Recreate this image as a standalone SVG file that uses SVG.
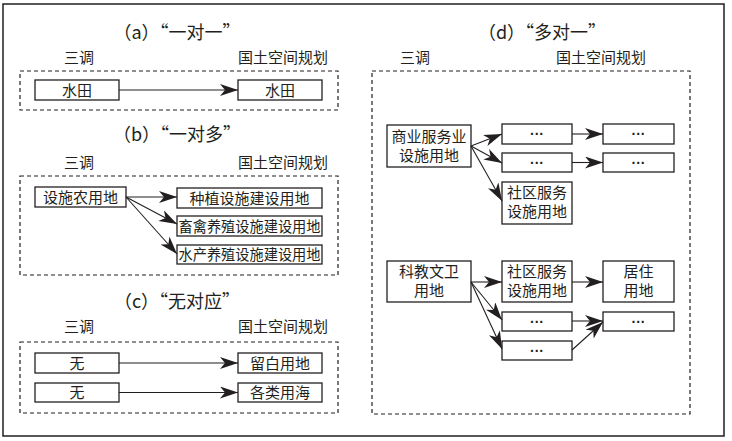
<svg xmlns="http://www.w3.org/2000/svg" width="732" height="441" viewBox="0 0 732 441">
<style>
text{font-family:"Noto Sans CJK SC","Noto Sans",sans-serif;fill:#231f20}
.t{font-size:18px;text-anchor:middle}
.l{font-size:15px;text-anchor:middle}
.b{font-size:15px;text-anchor:middle}
.d{font-size:15px;text-anchor:middle}
.e{font-family:"Liberation Sans",sans-serif;font-size:14px;text-anchor:middle;font-weight:bold}
.box{fill:#fff;stroke:#231f20;stroke-width:1.3}
.dash{fill:none;stroke:#231f20;stroke-width:1.2;stroke-dasharray:4 3}
.c{fill:none;stroke:#231f20;stroke-width:1.1}
</style>
<defs>
<marker id="ar" markerUnits="userSpaceOnUse" markerWidth="20" markerHeight="14" refX="18" refY="6" orient="auto">
<path d="M0,0 L18,6 L0,12 L5,6 z" fill="#231f20"/>
</marker>
</defs>
<rect x="3" y="4" width="721" height="432" fill="#fff" stroke="#231f20" stroke-width="1.5"/>

<!-- panel a -->
<text class="t" x="177" y="39">（a）“一对一”</text>
<text class="l" x="79" y="63">三调</text>
<text class="l" x="283" y="63">国土空间规划</text>
<rect class="dash" x="20" y="71" width="318" height="39"/>
<g id="a1"><rect class="box" x="35" y="80" width="84" height="20"/><text class="b" x="77" y="95.5">水田</text></g>
<g id="a2"><rect class="box" x="238" y="80" width="84" height="20"/><text class="b" x="280" y="95.5">水田</text></g>

<!-- panel b -->
<text class="t" x="177" y="141">（b）“一对多”</text>
<text class="l" x="79" y="168">三调</text>
<text class="l" x="283" y="168">国土空间规划</text>
<rect class="dash" x="20" y="176" width="318" height="99"/>
<g id="b1"><rect class="box" x="35" y="187" width="91" height="20"/><text class="b" x="80.5" y="202.5">设施农用地</text></g>
<g id="b2"><rect class="box" x="177" y="188" width="145" height="20"/><text class="b" x="249.5" y="203.5">种植设施建设用地</text></g>
<g id="b3"><rect class="box" x="177" y="216" width="145" height="20"/><text class="b" x="249.5" y="231.5" textLength="142" lengthAdjust="spacingAndGlyphs">畜禽养殖设施建设用地</text></g>
<g id="b4"><rect class="box" x="177" y="245" width="145" height="19"/><text class="b" x="249.5" y="260" textLength="142" lengthAdjust="spacingAndGlyphs">水产养殖设施建设用地</text></g>

<!-- panel c -->
<text class="t" x="177" y="308">（c）“无对应”</text>
<text class="l" x="79" y="332">三调</text>
<text class="l" x="283" y="332">国土空间规划</text>
<rect class="dash" x="20" y="342" width="318" height="71"/>
<g id="c1"><rect class="box" x="35" y="353" width="84" height="20"/><text class="b" x="77" y="368.5">无</text></g>
<g id="c2"><rect class="box" x="35" y="383" width="84" height="19"/><text class="b" x="77" y="398">无</text></g>
<g id="c3"><rect class="box" x="238" y="353" width="84" height="20"/><text class="b" x="280" y="368.5">留白用地</text></g>
<g id="c4"><rect class="box" x="238" y="383" width="84" height="19"/><text class="b" x="280" y="398">各类用海</text></g>

<!-- panel d -->
<text class="t" x="542" y="39">（d）“多对一”</text>
<text class="l" x="415" y="63">三调</text>
<text class="l" x="601" y="63">国土空间规划</text>
<rect class="dash" x="372" y="71" width="318" height="343"/>
<g id="d1"><rect class="box" x="387" y="125" width="84" height="42"/><text class="d" x="429" y="142">商业服务业</text><text class="d" x="429" y="161">设施用地</text></g>
<g id="d2"><rect class="box" x="502" y="124" width="70" height="20"/><text class="e" x="537" y="139">···</text></g>
<g id="d3"><rect class="box" x="502" y="153" width="70" height="19"/><text class="e" x="537" y="167.5">···</text></g>
<g id="d4"><rect class="box" x="603" y="124" width="71" height="20"/><text class="e" x="638.5" y="139">···</text></g>
<g id="d5"><rect class="box" x="603" y="153" width="71" height="19"/><text class="e" x="638.5" y="167.5">···</text></g>
<g id="d6"><rect class="box" x="502" y="182" width="70" height="42"/><text class="d" x="537" y="198">社区服务</text><text class="d" x="537" y="217">设施用地</text></g>
<g id="d7"><rect class="box" x="387" y="261" width="84" height="41"/><text class="d" x="429" y="277">科教文卫</text><text class="d" x="429" y="296">用地</text></g>
<g id="d8"><rect class="box" x="502" y="261" width="70" height="41"/><text class="d" x="537" y="277">社区服务</text><text class="d" x="537" y="296">设施用地</text></g>
<g id="d9"><rect class="box" x="603" y="261" width="71" height="41"/><text class="d" x="638.5" y="277">居住</text><text class="d" x="638.5" y="296">用地</text></g>
<g id="d10"><rect class="box" x="502" y="312" width="70" height="19"/><text class="e" x="537" y="326.5">···</text></g>
<g id="d11"><rect class="box" x="502" y="341" width="70" height="19"/><text class="e" x="537" y="355.5">···</text></g>
<g id="d12"><rect class="box" x="603" y="312" width="71" height="19"/><text class="e" x="638.5" y="326.5">···</text></g>

<g id="connectors">
<line class="c" x1="119" y1="90" x2="238" y2="90" marker-end="url(#ar)"/>
<line class="c" x1="126" y1="197" x2="177" y2="197" marker-end="url(#ar)"/>
<line class="c" x1="126" y1="197" x2="177" y2="224" marker-end="url(#ar)"/>
<line class="c" x1="126" y1="197" x2="177" y2="254" marker-end="url(#ar)"/>
<line class="c" x1="119" y1="363" x2="238" y2="363" marker-end="url(#ar)"/>
<line class="c" x1="119" y1="392.5" x2="238" y2="392.5" marker-end="url(#ar)"/>
<line class="c" x1="471" y1="146" x2="502" y2="134" marker-end="url(#ar)"/>
<line class="c" x1="471" y1="146" x2="502" y2="163" marker-end="url(#ar)"/>
<line class="c" x1="471" y1="146" x2="502" y2="201" marker-end="url(#ar)"/>
<line class="c" x1="572" y1="134" x2="603" y2="134" marker-end="url(#ar)"/>
<line class="c" x1="572" y1="162.5" x2="603" y2="162.5" marker-end="url(#ar)"/>
<line class="c" x1="471" y1="282" x2="502" y2="282" marker-end="url(#ar)"/>
<line class="c" x1="471" y1="282" x2="502" y2="320" marker-end="url(#ar)"/>
<line class="c" x1="471" y1="282" x2="502" y2="349" marker-end="url(#ar)"/>
<line class="c" x1="572" y1="282" x2="603" y2="282" marker-end="url(#ar)"/>
<line class="c" x1="572" y1="321" x2="603" y2="321" marker-end="url(#ar)"/>
<line class="c" x1="572" y1="350" x2="603" y2="322" marker-end="url(#ar)"/>
</g>
</svg>
